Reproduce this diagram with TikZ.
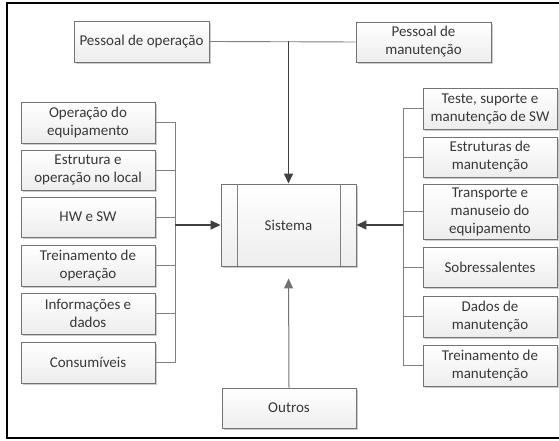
\documentclass[tikz,border=0pt]{standalone}
\usepackage{fontspec}
\setmainfont{Carlito}
\usetikzlibrary{shadows,arrows.meta,calc}
\begin{document}
\begin{tikzpicture}[x=1pt,y=1pt,
  box/.style={draw=black!55, line width=0.9pt, top color=white, bottom color=gray!14,
    drop shadow={shadow xshift=1.5pt,shadow yshift=-1.8pt,fill=black!40},
    minimum width=134pt, minimum height=40pt, align=center, inner sep=1pt,
    font=\fontsize{15}{18}\selectfont, text=black!78},
  conn/.style={draw=black!50, line width=0.9pt},
  arr/.style={draw=black!75, line width=1.5pt, -{Triangle[length=10pt,width=9pt]}},
]
\useasboundingbox (0,0) rectangle (559,441);
\draw[line width=1.2pt] (565,438) -- (7,438) -- (7,3) -- (565,3);

% top
\node[box, minimum width=135pt, minimum height=41pt] (po) at (141.5,399.5) {Pessoal de operação};
\node[box, minimum width=135pt] (pm) at (423.5,399) {Pessoal de\\manutenção};
% center
\node[box, minimum width=135pt, minimum height=82pt] (sys) at (288.5,216) {Sistema};
\draw[conn] ($(sys.north west)+(17,0)$) -- ($(sys.south west)+(17,0)$);
\draw[conn] ($(sys.north east)+(-16,0)$) -- ($(sys.south east)+(-16,0)$);
\node[box] (out) at (289,33) {Outros};

% left
\node[box, minimum height=41pt] (l1) at (88,318.5) {Operação do\\equipamento};
\node[box] (l2) at (88,271) {Estrutura e\\operação no local};
\node[box] (l3) at (88,224) {HW e SW};
\node[box, minimum height=41pt] (l4) at (88,175.5) {Treinamento de\\operação};
\node[box, minimum height=41pt] (l5) at (88,127.5) {Informações e\\dados};
\node[box, minimum height=41pt] (l6) at (88,78.5) {Consumíveis};

% right
\node[box, minimum height=41pt] (r1) at (490,332.5) {Teste, suporte e\\manutenção de SW};
\node[box] (r2) at (490,284) {Estruturas de\\manutenção};
\node[box, minimum height=55pt] (r3) at (490,229.5) {Transporte e\\manuseio do\\equipamento};
\node[box] (r4) at (490,174) {Sobressalentes};
\node[box, minimum height=41pt] (r5) at (490,124.5) {Dados de\\manutenção};
\node[box, minimum height=41pt] (r6) at (490,75.5) {Treinamento de\\manutenção};

\coordinate (lb) at (175,216);
\coordinate (rb) at (403,216);
\coordinate (tj) at (sys.north |- po.east);

% connectors
\draw[conn] (po.east) -- (pm.west);
\foreach \n in {l1,l2,l3,l4,l5,l6} \draw[conn] (\n.east) -| (lb);
\foreach \n in {r1,r2,r3,r4,r5,r6} \draw[conn] (\n.west) -| (rb);
\draw[arr] (tj) -- (sys.north);
\draw[arr] (lb) -- (sys.west);
\draw[arr] (rb) -- (sys.east);
\draw[arr, draw=black!55, line width=1pt, shorten >=12pt] (out.north) -- (sys.south);
\end{tikzpicture}
\end{document}
